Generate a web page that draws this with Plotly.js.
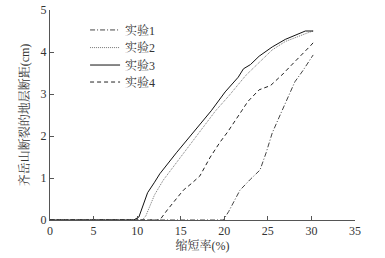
<!DOCTYPE html>
<html><head><meta charset="utf-8">
<script src="https://cdn.plot.ly/plotly-3.0.1.min.js"></script>
<style>html,body{margin:0;padding:0;background:#fff}#c{width:385px;height:258px}</style>
</head><body><div id="c"></div>
<script>
const names = ['实验1','实验2','实验3','实验4'];
const x1 = [0, 19.9, 20.5, 21.0, 21.8, 23.0, 24.1, 24.8, 25.5, 26.3, 27.2, 28.1, 29.0, 30.1, 30.2];
const y1 = [0, 0, 0.2, 0.4, 0.71, 0.97, 1.19, 1.6, 2.07, 2.45, 2.86, 3.29, 3.55, 3.88, 3.93];
const x2 = [0, 10.6, 11.0, 11.5, 12.0, 13.0, 15, 17, 19, 20.5, 21.5, 22.5, 23.5, 24.5, 25.5, 27, 28.5, 29.5, 30.2];
const y2 = [0, 0, 0.1, 0.35, 0.6, 0.95, 1.5, 2.05, 2.6, 2.95, 3.2, 3.45, 3.65, 3.85, 4.05, 4.25, 4.38, 4.45, 4.5];
const x3 = [0, 9.6, 10.2, 10.7, 11.2, 12.0, 12.6, 14.5, 16.5, 18.5, 20.1, 21.0, 21.6, 22.2, 23.0, 24.0, 25.0, 25.5, 27.0, 28.5, 29.3, 30.2];
const y3 = [0, 0, 0.07, 0.35, 0.65, 0.9, 1.1, 1.6, 2.1, 2.6, 3.05, 3.25, 3.4, 3.6, 3.7, 3.9, 4.05, 4.12, 4.3, 4.43, 4.5, 4.5];
const x4 = [0, 12.6, 13.5, 14.5, 15.3, 16.3, 17.2, 18.4, 19.5, 20.4, 21.0, 22.0, 22.7, 23.3, 24.0, 25.3, 26.6, 28.0, 29.0, 29.9, 30.2];
const y4 = [0, 0, 0.25, 0.5, 0.71, 0.88, 1.05, 1.5, 1.85, 2.1, 2.3, 2.6, 2.82, 2.95, 3.1, 3.2, 3.45, 3.75, 3.95, 4.15, 4.22];
const xs = [x1, x2, x3, x4], ys = [y1, y2, y3, y4];
const styles = [
  {color:'#444', dash:'5px,2px,1px,2px', width:1},
  {color:'#777', dash:'1px,1px', width:1},
  {color:'#111', dash:'solid', width:1},
  {color:'#222', dash:'4px,3px', width:1}
];
const legendIds = ['legend','legend2','legend3','legend4'];
const traces = names.map((n,i)=>({x:xs[i], y:ys[i], name:n, mode:'lines', type:'scatter', line:styles[i], legend:legendIds[i]}));
const F = "'Liberation Serif', 'Noto Serif CJK SC', 'Noto Sans CJK SC', serif";
const legY = [0.905, 0.821, 0.738, 0.657];
const layout = {
  width:385, height:258,
  margin:{l:50, r:30, t:10, b:38},
  paper_bgcolor:'#fff', plot_bgcolor:'#fff',
  font:{family:F, size:12, color:'#333'},
  showlegend:true,
  xaxis:{range:[0,35], tickvals:[0,5,10,15,20,25,30,35], ticks:'inside', ticklen:4, tickcolor:'#555', showline:true, linecolor:'#555', linewidth:1, showgrid:false, zeroline:false, mirror:false,
    title:{text:'缩短率(%)', font:{family:F, size:12, color:'#333'}, standoff:4}, tickfont:{family:F, size:12}},
  yaxis:{range:[0,5], tickvals:[0,1,2,3,4,5], ticks:'inside', ticklen:4, tickcolor:'#555', showline:true, linecolor:'#555', linewidth:1, showgrid:false, zeroline:false, mirror:false,
    title:{text:'齐岳山断裂的地层断距(cm)', font:{family:F, size:12, color:'#333'}, standoff:8}, tickfont:{family:F, size:12}}
};
legendIds.forEach((id,i)=>{
  layout[id] = {x:0.115, y:legY[i], xanchor:'left', yanchor:'middle', bgcolor:'rgba(0,0,0,0)', font:{family:F, size:12, color:'#333'}, itemwidth:30};
});
Plotly.newPlot('c', traces, layout, {staticPlot:true});
</script></body></html>
